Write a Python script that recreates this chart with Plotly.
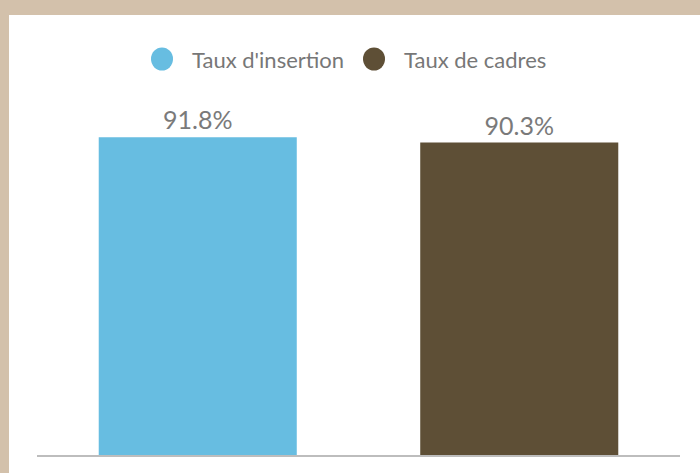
"""Bar chart: taux d'insertion et taux de cadres."""

import plotly.graph_objects as go

# Data
series_names = ["Taux d'insertion", "Taux de cadres"]
values = [91.8, 90.3]
colors = ["#67BDE1", "#5E4F36"]

W, H = 700, 473
L, R, T, B = 37, 20, 109, 18
PW, PH = W - L - R, H - T - B


def px_x(px):
    return (px - L) / PW


def px_y(py):
    return (H - B - py) / PH


fig = go.Figure()

for name, val, col in zip(series_names, values, colors):
    fig.add_trace(
        go.Bar(
            x=[name],
            y=[val],
            name=name,
            marker=dict(color=col, line=dict(width=0)),
            width=0.616,
            text=[f"{val}%"],
            textposition="outside",
            textfont=dict(size=25, color="#7a7a7a", family="Lato"),
            cliponaxis=False,
            showlegend=False,
            hoverinfo="skip",
        )
    )

# legend drawn by hand so the round markers can be as big as the original
legend_items = [(162, 190), (374, 402)]  # circle centre x, text left x
for (cx, tx), name, col in zip(legend_items, series_names, colors):
    fig.add_shape(type="circle", xref="paper", yref="paper",
                  x0=px_x(cx - 11), x1=px_x(cx + 11),
                  y0=px_y(59 + 11.5), y1=px_y(59 - 11.5),
                  fillcolor=col, line=dict(width=0))
    fig.add_annotation(text=name, xref="paper", yref="paper",
                       x=px_x(tx), y=px_y(59), xanchor="left", yanchor="middle",
                       showarrow=False,
                       font=dict(size=22, color="#777777", family="Lato"))

# beige frame around the white card
frame = "#D3C1AB"
fig.add_shape(type="rect", xref="paper", yref="paper",
              x0=px_x(0), x1=px_x(W), y0=px_y(15), y1=px_y(0),
              fillcolor=frame, line=dict(width=0), layer="below")
fig.add_shape(type="rect", xref="paper", yref="paper",
              x0=px_x(0), x1=px_x(9), y0=px_y(H), y1=px_y(0),
              fillcolor=frame, line=dict(width=0), layer="below")

fig.update_layout(
    width=W,
    height=H,
    margin=dict(l=L, r=R, t=T, b=B, autoexpand=False),
    paper_bgcolor="white",
    plot_bgcolor="white",
    barmode="overlay",
    showlegend=False,
    font=dict(family="Lato", color="#666666"),
    xaxis=dict(
        showticklabels=False,
        showgrid=False,
        zeroline=False,
        showline=True,
        linecolor="#bdbdbd",
        linewidth=2,
        ticks="",
        range=[-0.5, 1.5],
    ),
    yaxis=dict(
        visible=False,
        range=[0, 100],
    ),
)

fig.write_html(
    "out.html",
    config={"displayModeBar": False},
    post_script="document.body.style.margin='0px';",
)
